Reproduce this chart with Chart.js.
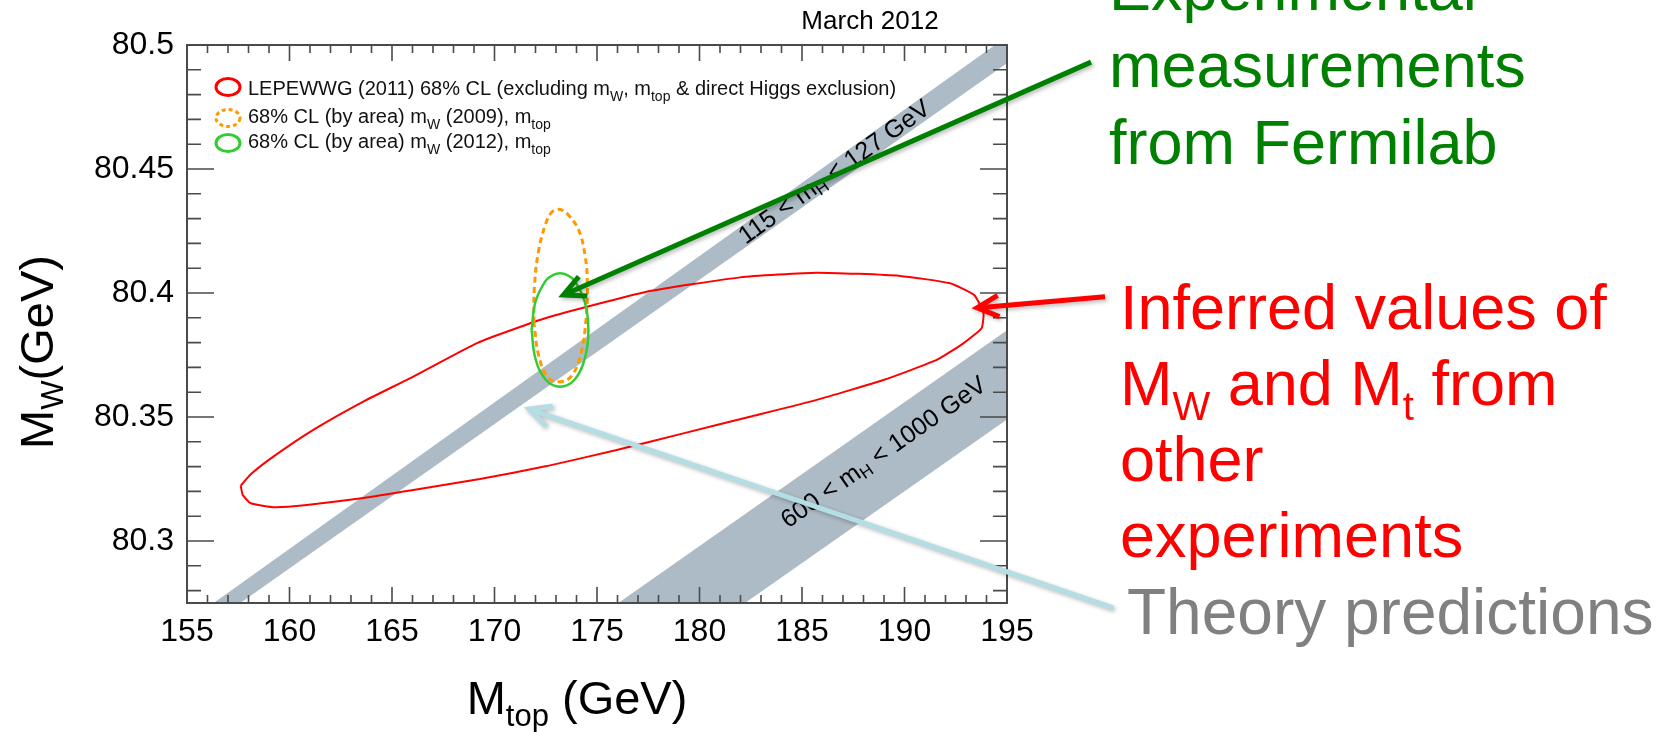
<!DOCTYPE html>
<html>
<head>
<meta charset="utf-8">
<script src="https://cdn.jsdelivr.net/npm/chart.js@4.4.1/dist/chart.umd.min.js"></script>
<style>
	html, body { margin: 0; padding: 0; background: #fff; }
	canvas { display: block; }
</style>
</head>
<body>
<canvas id="wChart" width="1666" height="732"></canvas>
<script>
	// axis ticks
	const mtopTicks = [155, 160, 165, 170, 175, 180, 185, 190, 195];
	const mwTicks = [80.3, 80.35, 80.4, 80.45, 80.5];
	const mwTickLabels = ['80.3', '80.35', '80.4', '80.45', '80.5'];

	// LEPEWWG (2011) 68% CL contour
	const lepMtop = [157.62, 157.72, 158.11, 159.29, 160.84, 163.52, 166.04, 169.29, 172.55, 175.96, 179.21, 182.46, 185.72, 188.97, 191.57, 192.87, 193.76, 193.85, 193.4, 192.22, 189.78, 185.72, 181.98, 177.42, 172.55, 169.2, 166.04, 163.6, 161.16, 159.21, 158.11, 157.62];
	const lepMw = [80.3223, 80.3185, 80.3152, 80.3136, 80.3145, 80.3172, 80.3206, 80.325, 80.3302, 80.3367, 80.3434, 80.3501, 80.3569, 80.3649, 80.373, 80.3797, 80.3858, 80.392, 80.3992, 80.4039, 80.4069, 80.4082, 80.4063, 80.4005, 80.39, 80.380, 80.3663, 80.3562, 80.3448, 80.334, 80.3269, 80.3223];

	// 68% CL (by area) mW (2009), mtop -- starts on the left side
	const mw09Mtop = [171.92, 171.95, 172.15, 172.5, 172.78, 173.06, 173.35, 173.6, 174.1, 174.42, 174.53, 174.45, 174.2, 173.75, 173.2, 172.6, 172.15, 171.92];
	const mw09Mw = [80.388, 80.403, 80.417, 80.428, 80.4325, 80.4337, 80.4332, 80.4315, 80.4255, 80.415, 80.403, 80.388, 80.375, 80.3665, 80.3642, 80.366, 80.375, 80.388];

	// 68% CL (by area) mW (2012), mtop -- starts on the left side
	const mw12Mtop = [171.81, 172.0, 172.5, 172.85, 173.2, 173.55, 173.9, 174.4, 174.58, 174.4, 173.9, 173.2, 172.5, 172.0, 171.81];
	const mw12Mw = [80.385, 80.3965, 80.405, 80.4072, 80.408, 80.4072, 80.405, 80.3965, 80.385, 80.3735, 80.365, 80.3622, 80.365, 80.3735, 80.385];

	// theory bands (corners of the visible part)
	const band115Mtop = [156.3, 194.41, 195, 195, 157.6, 156.3];
	const band115Mw = [80.275, 80.5, 80.5, 80.4926, 80.275, 80.275];
	const band600Mtop = [176.04, 195, 195, 182.22, 176.04];
	const band600Mw = [80.275, 80.385, 80.349, 80.275, 80.275];

	// arrows [tail mtop, tail mw, tip mtop, tip mw]
	const arrowExp = [199.1, 80.4931, 173.36, 80.3992];
	const arrowInf = [199.78, 80.3985, 193.54, 80.394];
	const arrowTheo = [200.17, 80.273, 171.68, 80.3532];

	const FONT = '"Liberation Sans", Arial, Helvetica, sans-serif';
	const f = px => px + 'px ' + FONT;

	const pts = (xs, ys) => xs.map((x, i) => ({ x: x, y: ys[i] }));

	function drawRuns(ctx, runs, x, y, align) {
		let w = 0;
		runs.forEach(r => { ctx.font = f(r.size); w += ctx.measureText(r.text).width; });
		let cx = align === 'center' ? x - w / 2 : x;
		ctx.textAlign = 'left';
		runs.forEach(r => {
			ctx.font = f(r.size);
			ctx.fillText(r.text, cx, y + (r.dy || 0));
			cx += ctx.measureText(r.text).width;
		});
	}

	function arrow(ctx, xs, ys, a, color, width) {
		const x0 = xs.getPixelForValue(a[0]), y0 = ys.getPixelForValue(a[1]);
		const x1 = xs.getPixelForValue(a[2]), y1 = ys.getPixelForValue(a[3]);
		const ang = Math.atan2(y0 - y1, x0 - x1);
		const len = 24, spread = 0.46;
		ctx.save();
		ctx.strokeStyle = color;
		ctx.lineWidth = width;
		ctx.lineCap = 'butt';
		ctx.lineJoin = 'miter';
		ctx.shadowColor = 'rgba(0,0,0,0.28)';
		ctx.shadowBlur = 4;
		ctx.shadowOffsetX = 2;
		ctx.shadowOffsetY = 2;
		ctx.beginPath();
		ctx.moveTo(x0, y0);
		ctx.lineTo(x1 + Math.cos(ang) * 2, y1 + Math.sin(ang) * 2);
		ctx.moveTo(x1 + Math.cos(ang - spread) * len, y1 + Math.sin(ang - spread) * len);
		ctx.lineTo(x1, y1);
		ctx.lineTo(x1 + Math.cos(ang + spread) * len, y1 + Math.sin(ang + spread) * len);
		ctx.stroke();
		ctx.restore();
	}

	function bandLabel(ctx, xs, ys, bx, by, cx, cy, runs) {
		const px = xs.getPixelForValue(cx), py = ys.getPixelForValue(cy);
		const ang = Math.atan2(ys.getPixelForValue(by[1]) - ys.getPixelForValue(by[0]),
			xs.getPixelForValue(bx[1]) - xs.getPixelForValue(bx[0]));
		ctx.save();
		ctx.translate(px, py);
		ctx.rotate(ang);
		ctx.fillStyle = '#000';
		ctx.textBaseline = 'middle';
		drawRuns(ctx, runs, 0, 0, 'center');
		ctx.restore();
	}

	const decorations = {
		id: 'decorations',
		afterDatasetsDraw(chart) {
			const ctx = chart.ctx;
			const xs = chart.scales.x, ys = chart.scales.y;
			const a = chart.chartArea;

			// band labels
			ctx.save();
			ctx.beginPath();
			ctx.rect(a.left, a.top, a.right - a.left, a.bottom - a.top);
			ctx.clip();
			bandLabel(ctx, xs, ys, band115Mtop, band115Mw, 186.6, 80.4485, [
				{ text: '115 < m', size: 25 }, { text: 'H', size: 17, dy: 6 }, { text: ' < 127 GeV', size: 25 }
			]);
			bandLabel(ctx, xs, ys, band600Mtop, band600Mw, 189.0, 80.3355, [
				{ text: '600 < m', size: 25 }, { text: 'H', size: 17, dy: 6 }, { text: ' < 1000 GeV', size: 25 }
			]);
			ctx.restore();

			// frame
			ctx.save();
			ctx.strokeStyle = '#4a4a4a';
			ctx.lineWidth = 2;
			ctx.strokeRect(a.left, a.top, a.right - a.left, a.bottom - a.top);

			// inward tick marks on all four sides
			ctx.lineWidth = 1.6;
			ctx.beginPath();
			for (let v = 155; v <= 195; v++) {
				const x = xs.getPixelForValue(v);
				const l = v % 5 === 0 ? 16 : 8;
				ctx.moveTo(x, a.bottom); ctx.lineTo(x, a.bottom - l);
				ctx.moveTo(x, a.top); ctx.lineTo(x, a.top + l);
			}
			for (let k = 8028; k <= 8050; k++) {
				const y = ys.getPixelForValue(k / 100);
				const l = k % 5 === 0 ? 27 : 14;
				ctx.moveTo(a.left, y); ctx.lineTo(a.left + l, y);
				ctx.moveTo(a.right, y); ctx.lineTo(a.right - l, y);
			}
			ctx.stroke();
			ctx.restore();

			// legend inside the plot
			ctx.save();
			const lx = a.left + 41;
			ctx.lineWidth = 3;
			ctx.strokeStyle = '#ff0000';
			ctx.beginPath(); ctx.ellipse(lx, a.top + 42, 12, 8.5, 0, 0, Math.PI * 2); ctx.stroke();
			ctx.strokeStyle = '#ff9900';
			ctx.setLineDash([4, 3]);
			ctx.beginPath(); ctx.ellipse(lx, a.top + 73, 12, 8.5, 0, 0, Math.PI * 2); ctx.stroke();
			ctx.setLineDash([]);
			ctx.strokeStyle = '#33cc33';
			ctx.beginPath(); ctx.ellipse(lx, a.top + 98, 12, 8.5, 0, 0, Math.PI * 2); ctx.stroke();
			ctx.fillStyle = '#111';
			ctx.textBaseline = 'alphabetic';
			const tx = a.left + 61;
			drawRuns(ctx, [
				{ text: 'LEPEWWG (2011) 68% CL (excluding m', size: 20 }, { text: 'W', size: 14, dy: 6 },
				{ text: ', m', size: 20 }, { text: 'top', size: 14, dy: 6 },
				{ text: ' & direct Higgs exclusion)', size: 20 }
			], tx, a.top + 50, 'left');
			drawRuns(ctx, [
				{ text: '68% CL (by area) m', size: 20 }, { text: 'W', size: 14, dy: 6 },
				{ text: ' (2009), m', size: 20 }, { text: 'top', size: 14, dy: 6 }
			], tx, a.top + 78, 'left');
			drawRuns(ctx, [
				{ text: '68% CL (by area) m', size: 20 }, { text: 'W', size: 14, dy: 6 },
				{ text: ' (2012), m', size: 20 }, { text: 'top', size: 14, dy: 6 }
			], tx, a.top + 103, 'left');
			ctx.restore();
		},
		afterDraw(chart) {
			const ctx = chart.ctx;
			const xs = chart.scales.x, ys = chart.scales.y;
			const a = chart.chartArea;

			ctx.save();
			ctx.fillStyle = '#000';
			ctx.textBaseline = 'alphabetic';
			// title
			drawRuns(ctx, [{ text: 'March 2012', size: 26 }], (a.left + a.right) / 2 + 273, 29, 'center');
			// x axis title
			drawRuns(ctx, [
				{ text: 'M', size: 47 }, { text: 'top', size: 31, dy: 12 }, { text: ' (GeV)', size: 47 }
			], (a.left + a.right) / 2 - 20, 714, 'center');
			// y axis title
			ctx.save();
			ctx.translate(53, (a.top + a.bottom) / 2 + 28);
			ctx.rotate(-Math.PI / 2);
			drawRuns(ctx, [
				{ text: 'M', size: 47 }, { text: 'W', size: 31, dy: 10 }, { text: '(GeV)', size: 47 }
			], 0, 0, 'center');
			ctx.restore();

			// slide annotations
			ctx.fillStyle = '#008000';
			drawRuns(ctx, [{ text: 'Experimental', size: 63 }], 1109, 10, 'left');
			drawRuns(ctx, [{ text: 'measurements', size: 63 }], 1109, 86.5, 'left');
			drawRuns(ctx, [{ text: 'from Fermilab', size: 63 }], 1109, 163.5, 'left');
			ctx.fillStyle = '#ff0000';
			drawRuns(ctx, [{ text: 'Inferred values of', size: 63 }], 1120, 328.5, 'left');
			drawRuns(ctx, [
				{ text: 'M', size: 63 }, { text: 'W', size: 40, dy: 15 }, { text: ' and M', size: 63 },
				{ text: 't', size: 40, dy: 15 }, { text: ' from', size: 63 }
			], 1120, 405, 'left');
			drawRuns(ctx, [{ text: 'other', size: 63 }], 1120, 481, 'left');
			drawRuns(ctx, [{ text: 'experiments', size: 63 }], 1120, 557, 'left');
			ctx.fillStyle = '#808080';
			drawRuns(ctx, [{ text: 'Theory predictions', size: 64 }], 1127, 633.5, 'left');
			ctx.restore();

			arrow(ctx, xs, ys, arrowTheo, '#b4dee3', 5);
			arrow(ctx, xs, ys, arrowExp, '#008000', 5);
			arrow(ctx, xs, ys, arrowInf, '#ff0000', 5);
		}
	};

	window.onload = () => {
		const ctx = document.getElementById('wChart').getContext('2d');
		new Chart(ctx, {
			type: 'scatter',
			data: {
				datasets: [
					{
						label: '68% CL (by area) mW (2012), mtop',
						data: pts(mw12Mtop, mw12Mw),
						showLine: true, borderColor: '#33cc33', borderWidth: 2.5,
						pointRadius: 0, tension: 0.4, fill: false
					},
					{
						label: '68% CL (by area) mW (2009), mtop',
						data: pts(mw09Mtop, mw09Mw),
						showLine: true, borderColor: '#ff9900', borderWidth: 3, borderDash: [6, 4],
						pointRadius: 0, tension: 0.4, fill: false
					},
					{
						label: 'LEPEWWG (2011) 68% CL',
						data: pts(lepMtop, lepMw),
						showLine: true, borderColor: '#ff0000', borderWidth: 2,
						pointRadius: 0, tension: 0.15, fill: false
					},
					{
						label: '115 < mH < 127 GeV',
						data: pts(band115Mtop, band115Mw),
						showLine: true, borderWidth: 0, borderColor: 'rgba(0,0,0,0)',
						backgroundColor: '#adbbc6', pointRadius: 0, tension: 0, fill: 'shape'
					},
					{
						label: '600 < mH < 1000 GeV',
						data: pts(band600Mtop, band600Mw),
						showLine: true, borderWidth: 0, borderColor: 'rgba(0,0,0,0)',
						backgroundColor: '#adbbc6', pointRadius: 0, tension: 0, fill: 'shape'
					}
				]
			},
			options: {
				responsive: false,
				animation: false,
				events: [],
				devicePixelRatio: 1,
				layout: { padding: { top: 45, right: 659, bottom: 0, left: 0 } },
				scales: {
					x: {
						type: 'linear', min: 155, max: 195,
						grid: { display: false, drawTicks: false },
						border: { display: false },
						afterBuildTicks: s => { s.ticks = mtopTicks.map(v => ({ value: v })); },
						afterFit: s => { s.height = 129; },
						ticks: {
							autoSkip: false, maxRotation: 0, padding: 10, color: '#000',
							font: { family: FONT, size: 32 },
							callback: v => String(v)
						}
					},
					y: {
						type: 'linear', min: 80.275, max: 80.5,
						grid: { display: false, drawTicks: false },
						border: { display: false },
						afterBuildTicks: s => { s.ticks = mwTicks.map(v => ({ value: v })); },
						afterFit: s => { s.width = 187; },
						ticks: {
							autoSkip: false, padding: 13, color: '#000',
							font: { family: FONT, size: 32 },
							callback: (v, i) => mwTickLabels[i]
						}
					}
				},
				plugins: {
					legend: { display: false },
					tooltip: { enabled: false },
					title: { display: false }
				}
			},
			plugins: [decorations]
		});
	};
</script>
</body>
</html>
